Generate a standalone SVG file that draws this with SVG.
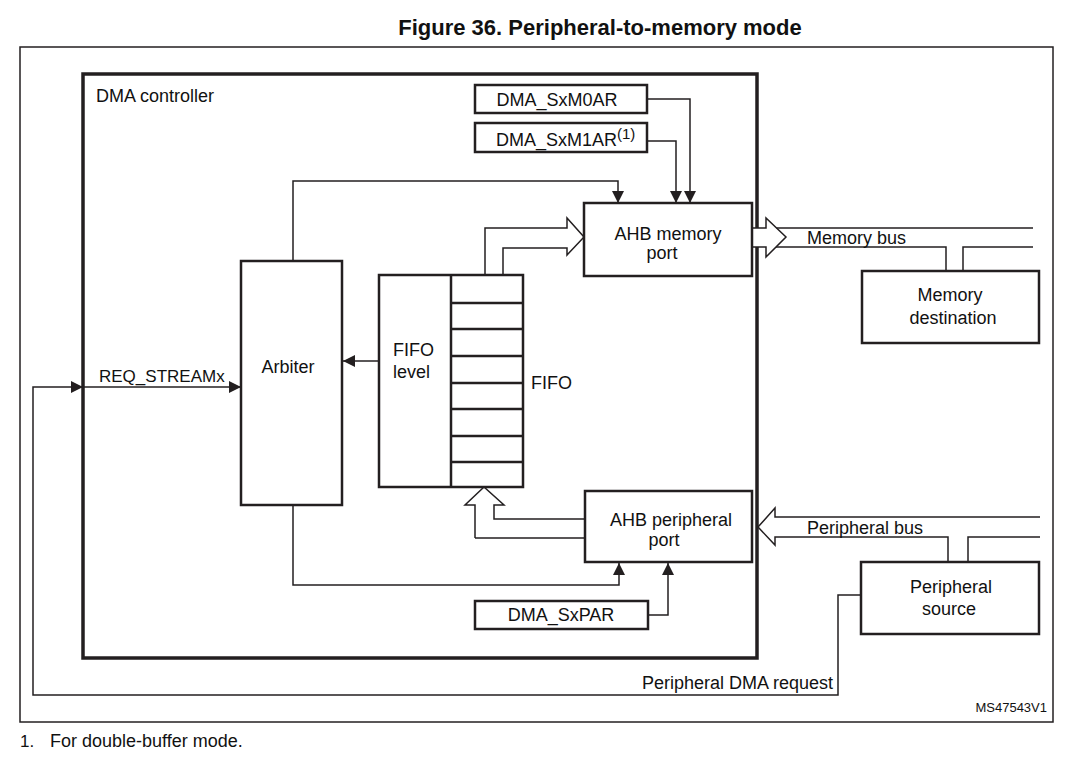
<svg xmlns="http://www.w3.org/2000/svg" width="1075" height="757" viewBox="0 0 1075 757">
<style>
text{font-family:"Liberation Sans",Arial,sans-serif;font-size:18px;fill:#111}
.box{fill:#fff;stroke:#231f20;stroke-width:2.5}
.ln{fill:none;stroke:#231f20;stroke-width:1.5}
.hl{fill:#fff;stroke:#231f20;stroke-width:1.5;stroke-linejoin:miter}
</style>
<defs>
<marker id="ah" viewBox="0 0 12 12" refX="12" refY="6" markerWidth="12" markerHeight="12" markerUnits="userSpaceOnUse" orient="auto">
<path d="M0,0 L12,6 L0,12 Z" fill="#231f20"/>
</marker>
</defs>
<rect x="0" y="0" width="1075" height="757" fill="#fff"/>
<text x="600" y="35" text-anchor="middle" style="font-weight:bold;font-size:22px">Figure 36. Peripheral-to-memory mode</text>
<rect x="20" y="47" width="1033" height="675" fill="none" stroke="#231f20" stroke-width="1.5"/>
<g id="dma-controller">
<rect x="83" y="74" width="674" height="584" fill="none" stroke="#231f20" stroke-width="3.5"/>
<text x="96" y="102">DMA controller</text>
</g>
<g id="connectors">
<polyline class="ln" points="647,99 690,99 690,203" marker-end="url(#ah)"/>
<polyline class="ln" points="647,141 676,141 676,203" marker-end="url(#ah)"/>
<polyline class="ln" points="293,261 293,181 618,181 618,203" marker-end="url(#ah)"/>
<path class="hl" d="M485,275 V228 H567 V218 L584,237 L567,255 V248 H503 V275"/>
<path class="hl" d="M752,228 H766 V218 L786,237 L766,257 V247 H752"/>
<path class="ln" d="M776.5,228 H1033 M776,247 H946 V271 M963,271 V247 H1033"/>
<line class="ln" x1="379" y1="361" x2="343" y2="361" marker-end="url(#ah)"/>
<path class="hl" d="M475,538 V505 H465 L484,487 L504,505 H494 V519 H585 M475,538 H585"/>
<polyline class="ln" points="293,505 293,585 619,585 619,563" marker-end="url(#ah)"/>
<polyline class="ln" points="648,615 668,615 668,563" marker-end="url(#ah)"/>
<path class="hl" d="M1040,517 H775 V508 L758,527 L775,545 V537 H948 V562"/>
<path class="ln" d="M968,562 V537 H1040"/>
<polyline class="ln" points="861,595 838,595 838,695 33,695 33,387 83,387" marker-end="url(#ah)"/>
<line class="ln" x1="83" y1="387" x2="241" y2="387" marker-end="url(#ah)"/>
<text x="99" y="382" style="font-size:17px">REQ_STREAMx</text>
<text x="807" y="244">Memory bus</text>
<text x="807" y="534">Peripheral bus</text>
<text x="833" y="689" text-anchor="end">Peripheral DMA request</text>
</g>
<g id="dma-sxm0ar">
<rect class="box" x="475" y="85" width="172" height="28"/>
<text x="557" y="106" text-anchor="middle">DMA_SxM0AR</text>
</g>
<g id="dma-sxm1ar">
<rect class="box" x="475" y="123" width="172" height="29"/>
<text x="496" y="146">DMA_SxM1AR<tspan dy="-7" style="font-size:15px">(1)</tspan></text>
</g>
<g id="ahb-memory-port">
<rect class="box" x="584" y="203" width="168" height="73"/>
<text x="668" y="240" text-anchor="middle">AHB memory</text>
<text x="662" y="259" text-anchor="middle">port</text>
</g>
<g id="memory-destination">
<rect class="box" x="862" y="271" width="177" height="72"/>
<text x="950" y="301" text-anchor="middle">Memory</text>
<text x="953" y="324" text-anchor="middle">destination</text>
</g>
<g id="arbiter">
<rect class="box" x="241" y="261" width="101" height="244"/>
<text x="288" y="373" text-anchor="middle">Arbiter</text>
</g>
<g id="fifo">
<rect class="box" x="379" y="275" width="144" height="212"/>
<line class="box" x1="451" y1="275" x2="451" y2="487"/>
<path class="ln" style="stroke-width:2.5" d="M451,303 H523 M451,329 H523 M451,356 H523 M451,383 H523 M451,409 H523 M451,436 H523 M451,462 H523"/>
<text x="393" y="356">FIFO</text>
<text x="393" y="378">level</text>
<text x="531" y="389">FIFO</text>
</g>
<g id="ahb-peripheral-port">
<rect class="box" x="585" y="491" width="167" height="71"/>
<text x="671" y="526" text-anchor="middle">AHB peripheral</text>
<text x="664" y="546" text-anchor="middle">port</text>
</g>
<g id="dma-sxpar">
<rect class="box" x="475" y="601" width="173" height="28"/>
<text x="561" y="621" text-anchor="middle">DMA_SxPAR</text>
</g>
<g id="peripheral-source">
<rect class="box" x="861" y="562" width="178" height="72"/>
<text x="951" y="593" text-anchor="middle">Peripheral</text>
<text x="949" y="615" text-anchor="middle">source</text>
</g>
<text x="1047" y="712" text-anchor="end" style="font-size:13px">MS47543V1</text>
<text x="20" y="747" style="font-size:17px">1.</text>
<text x="50" y="747" style="font-size:18px">For double-buffer mode.</text>
</svg>
